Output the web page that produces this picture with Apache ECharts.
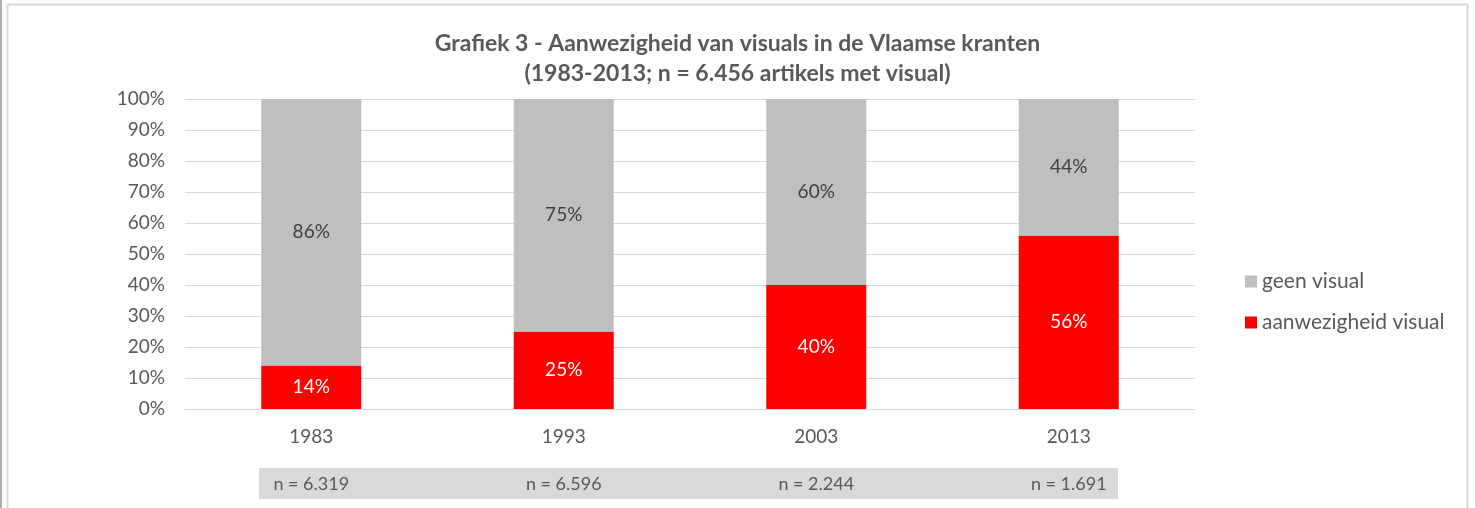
<!DOCTYPE html>
<html>
<head>
<meta charset="utf-8">
<script src="https://cdn.jsdelivr.net/npm/echarts@6/dist/echarts.min.js"></script>
<style>
  html, body { margin: 0; padding: 0; background: #fff; }
  #main { width: 1475px; height: 508px; }
</style>
</head>
<body>
<div id="main"></div>
<script>
var years = ['1983', '1993', '2003', '2013'];
var aanwezig = [14, 25, 40, 56];
var geen = [86, 75, 60, 44];
var nLabels = ['n = 6.319', 'n = 6.596', 'n = 2.244', 'n = 1.691'];
var yTicks = [0, 10, 20, 30, 40, 50, 60, 70, 80, 90, 100];

var font = 'Lato';
var txt = '#595959';

var chart = echarts.init(document.getElementById('main'));

var option = {
  animation: false,
  textStyle: { fontFamily: font },
  title: {
    text: 'Grafiek 3 - Aanwezigheid van visuals in de Vlaamse kranten\n(1983-2013; n = 6.456 artikels met visual)',
    left: 'center',
    top: 24,
    textStyle: { fontFamily: font, fontSize: 23, fontWeight: 'bold', color: txt, lineHeight: 30 }
  },
  legend: {
    orient: 'vertical',
    left: 1240,
    top: 266,
    itemWidth: 12,
    itemHeight: 12,
    itemGap: 20,
    icon: 'rect',
    data: ['geen visual', 'aanwezigheid visual'],
    textStyle: { fontFamily: font, fontSize: 21, color: txt }
  },
  grid: { left: 185, right: 280, top: 99, bottom: 99 },
  xAxis: [{
    type: 'category',
    data: years,
    axisLine: { show: true, lineStyle: { color: '#d9d9d9' } },
    axisTick: { show: false },
    axisLabel: { margin: 18, fontSize: 19, color: txt, fontFamily: font }
  }, {
    type: 'category',
    data: nLabels,
    position: 'bottom',
    offset: 60,
    axisLine: { show: false },
    axisTick: { show: false },
    axisLabel: { margin: 6, fontSize: 18, color: txt, fontFamily: font }
  }],
  yAxis: {
    type: 'value',
    min: 0,
    max: 100,
    interval: 10,
    axisLine: { show: false },
    axisTick: { show: false },
    splitLine: { lineStyle: { color: '#d9d9d9', width: 1 } },
    axisLabel: {
      margin: 20, fontSize: 19, color: txt, fontFamily: font,
      formatter: function (v) { return yTicks.indexOf(v) >= 0 ? v + '%' : ''; }
    }
  },
  graphic: [{
    type: 'rect',
    z: -10,
    shape: { x: 7.5, y: 4.5, width: 1460, height: 520 },
    style: { fill: 'none', stroke: '#d9d9d9', lineWidth: 2 }
  }, {
    type: 'line',
    z: -10,
    shape: { x1: 1, y1: 0, x2: 1, y2: 508 },
    style: { stroke: '#b0b0b0', lineWidth: 2 }
  }, {
    type: 'rect',
    z: -10,
    shape: { x: 259, y: 468, width: 859, height: 31 },
    style: { fill: '#d9d9d9' }
  }],
  series: [{
    name: 'aanwezigheid visual',
    type: 'bar',
    stack: 'total',
    barWidth: 100,
    data: aanwezig,
    itemStyle: { color: '#ff0000' },
    label: {
      show: true, position: 'inside', color: '#ffffff', fontSize: 19, fontFamily: font,
      formatter: '{c}%'
    }
  }, {
    name: 'geen visual',
    type: 'bar',
    stack: 'total',
    barWidth: 100,
    data: geen,
    itemStyle: { color: '#bfbfbf' },
    label: {
      show: true, position: 'inside', color: '#404040', fontSize: 19, fontFamily: font,
      formatter: '{c}%'
    }
  }]
};

chart.setOption(option);
</script>
</body>
</html>
